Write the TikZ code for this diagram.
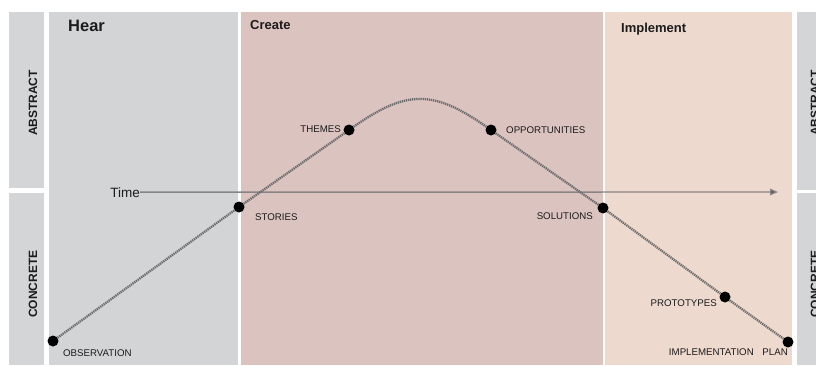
\documentclass[tikz,border=0pt]{standalone}
\usepackage{fontspec}
\setmainfont{Liberation Sans}
\usetikzlibrary{positioning,arrows.meta}
\definecolor{hearbg}{RGB}{211,212,214}
\definecolor{createbg}{RGB}{219,195,192}
\definecolor{implbg}{RGB}{238,217,206}
\definecolor{sidebg}{RGB}{212,213,215}
\definecolor{ink}{RGB}{28,28,28}
\tikzset{
  dot/.style={circle, fill=black, inner sep=0pt, minimum size=11pt},
  stage/.style={font=\bfseries\fontsize{13}{15}\selectfont, inner sep=0pt, text=ink},
  side/.style={font=\bfseries\fontsize{12}{14}\selectfont, inner sep=0pt, rotate=90, text=ink},
  tag/.style={font=\fontsize{9.7}{11}\selectfont, inner sep=0pt, text=ink},
  track/.style={draw=black!58, line width=2.3pt, dash pattern=on 1.3pt off 0.8pt}
}

\begin{document}
\begin{tikzpicture}[x=1pt,y=1pt]
        \useasboundingbox (0,0) rectangle (816,365);
        \clip (0,0) rectangle (816,365);
        % bands
        \fill[sidebg] (9,177) rectangle (44,353);
        \fill[sidebg] (9,0) rectangle (44,172);
        \fill[hearbg] (49,0) rectangle (238,353);
        \fill[createbg] (241,0) rectangle (603,353);
        \fill[implbg] (605,0) rectangle (792,353);
        \fill[sidebg] (797,175) rectangle (840,353);
        \fill[sidebg] (797,0) rectangle (840,172);
        \node [side] (AbsL) at (33,262) {ABSTRACT};
        \node [side] (ConL) at (33,81) {CONCRETE};
        \node [side] (AbsR) at (815,262) {ABSTRACT};
        \node [side] (ConR) at (815,81) {CONCRETE};
        \node [stage, anchor=base west, font=\bfseries\fontsize{16.5}{18}\selectfont] (Hear) at (68,333) {Hear};
        \node [stage, anchor=base west] (Create) at (250,335) {Create};
        \node [stage, anchor=base west] (Implement) at (621,332) {Implement};
        % time axis
        \node [anchor=base east, inner sep=0pt, text=ink, font=\fontsize{13.5}{15}\selectfont] (Time) at (140,168) {Time};
        \coordinate (TimeEnd) at (778,173);
        \draw [black!48, line width=1.4pt, -{Triangle[length=8pt,width=6.5pt,fill=black!70]}] (Time.east) -- (TimeEnd);
        % milestones
        \node [dot] (Obs) at (53,24) {};
        \node [dot, on grid, above right=134pt and 186pt of Obs] (Stories) {};
        \node [dot, on grid, above right=77pt and 110pt of Stories] (Themes) {};
        \node [dot, on grid, right=142pt of Themes] (Opps) {};
        \node [dot, on grid, below right=78pt and 112pt of Opps] (Sols) {};
        \node [dot, on grid, below right=89pt and 122pt of Sols] (Protos) {};
        \node [dot, on grid, below right=45pt and 63pt of Protos] (Plan) {};
        \draw [track] (Obs) -- (Stories) -- (Themes) to[out=35,in=145,looseness=1.25] (Opps) -- (Sols) -- (Protos) -- (Plan);
        \node [tag, anchor=west] (ObsLbl) at (63,12) {OBSERVATION};
        \node [tag, anchor=west] (StoriesLbl) at (255,148) {STORIES};
        \node [tag, anchor=east] (ThemesLbl) at (341,236) {THEMES};
        \node [tag, anchor=west] (OppsLbl) at (506,235) {OPPORTUNITIES};
        \node [tag, anchor=east] (SolsLbl) at (593,149) {SOLUTIONS};
        \node [tag, anchor=east] (ProtosLbl) at (717,62) {PROTOTYPES};
        \node [tag, anchor=east] (PlanLbl) at (788,13) {IMPLEMENTATION\hspace{6pt} PLAN};
      \end{tikzpicture}
\end{document}
